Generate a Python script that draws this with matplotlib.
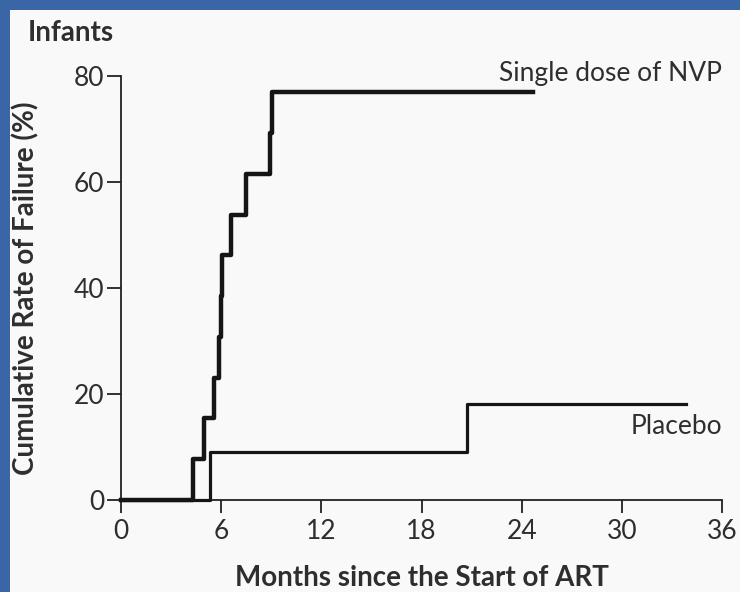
import matplotlib
matplotlib.use("Agg")
import matplotlib.pyplot as plt
from matplotlib.patches import Rectangle

# Kaplan-Meier style step data
nvp_months = [0, 4.3, 4.95, 5.55, 5.85, 6.0, 6.05, 6.6, 7.5, 8.9, 9.05, 24.7]
nvp_rate = [0, 7.7, 15.4, 23.1, 30.8, 38.5, 46.2, 53.8, 61.5, 69.2, 76.9, 76.9]
placebo_months = [0, 5.35, 20.75, 33.85]
placebo_rate = [0, 9.1, 18.2, 18.2]

x_ticks = [0, 6, 12, 18, 24, 30, 36]
y_ticks = [0, 20, 40, 60, 80]

plt.rcParams['font.family'] = ['Lato', 'DejaVu Sans']
text_col = '#2e2e2e'

fig = plt.figure(figsize=(7.4, 5.92), dpi=100)
fig.patch.set_facecolor('#3a66a6')
# white panel inside the blue frame (top and left edges stay blue)
panel = Rectangle((10 / 740, 0), 1, 1 - 10 / 592, transform=fig.transFigure,
                  facecolor='#f9f9f9', edgecolor='none', zorder=-10)
fig.add_artist(panel)

ax = fig.add_axes([121 / 740, 1 - 500 / 592, 601 / 740, 424 / 592])
ax.set_facecolor('none')
ax.set_zorder(1)

ax.step(nvp_months, nvp_rate, where='post', color='#151515', lw=3.2, clip_on=False, zorder=3)
ax.step(placebo_months, placebo_rate, where='post', color='#151515', lw=2.3, clip_on=False, zorder=3)

ax.set_xlim(0, 36)
ax.set_ylim(0, 80)
ax.set_xticks(x_ticks)
ax.set_yticks(y_ticks)
for s in ['top', 'right']:
    ax.spines[s].set_visible(False)
for s in ['left', 'bottom']:
    ax.spines[s].set_linewidth(1.3)
    ax.spines[s].set_color('#222222')

ax.tick_params(axis='x', direction='out', length=9, width=1.3, pad=5,
               labelsize=19, labelcolor=text_col, color='#222222')
ax.tick_params(axis='y', direction='out', length=10, width=1.3, pad=2,
               labelsize=19, labelcolor=text_col, color='#222222')

ax.set_xlabel('Months since the Start of ART', fontsize=20, fontweight='bold',
              color=text_col, va='center')
ax.xaxis.set_label_coords(0.5, -0.184)
ax.set_ylabel('Cumulative Rate of Failure (%)', fontsize=20, fontweight='bold',
              color=text_col, va='center')
ax.yaxis.set_label_coords(-0.158, 0.5)

ax.text(36, 80.5, 'Single dose of NVP', ha='right', va='center', fontsize=19, color=text_col)
ax.text(36, 13.8, 'Placebo', ha='right', va='center', fontsize=19, color=text_col)

fig.text(28 / 740, 1 - 33 / 592, 'Infants', ha='left', va='center', fontsize=20,
         fontweight='bold', color=text_col)

fig.savefig('out.png', dpi=100, facecolor=fig.get_facecolor())
